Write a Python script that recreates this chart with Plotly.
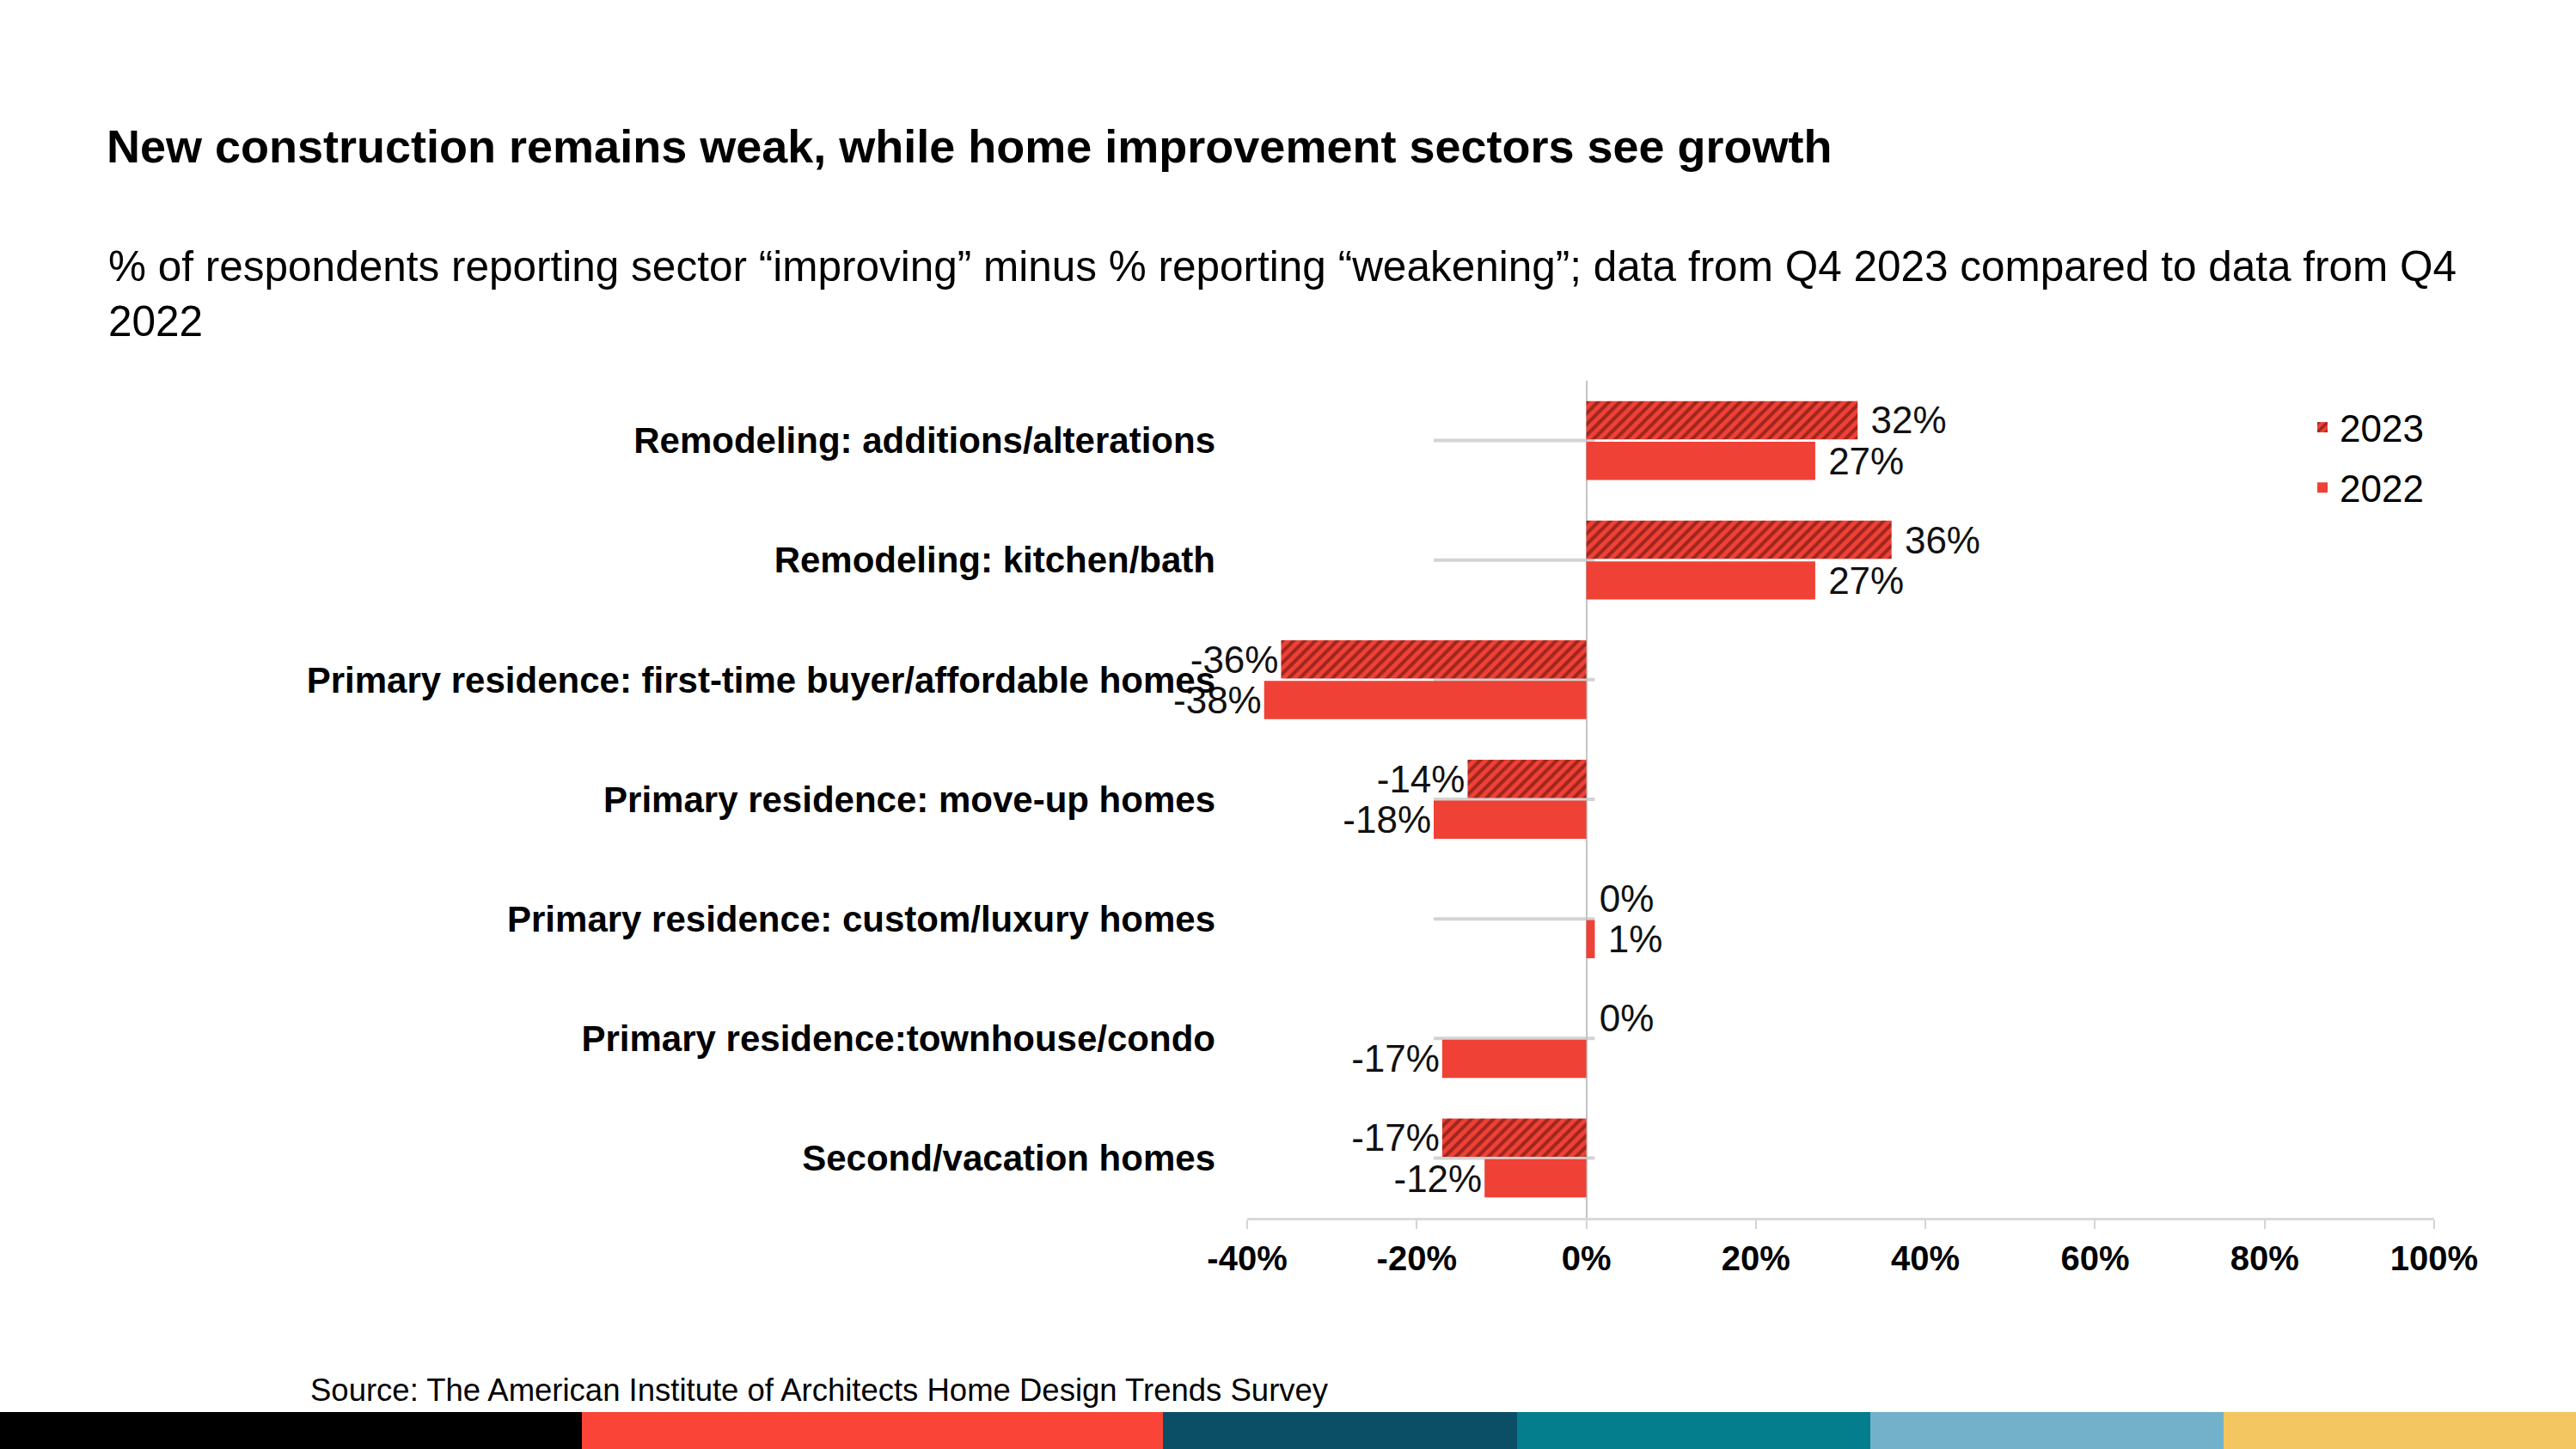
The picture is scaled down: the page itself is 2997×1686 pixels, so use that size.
import plotly.graph_objects as go

# ---------------- data ----------------
CATEGORIES = [
    "Remodeling: additions/alterations",
    "Remodeling: kitchen/bath",
    "Primary residence: first-time buyer/affordable homes",
    "Primary residence: move-up homes",
    "Primary residence: custom/luxury homes",
    "Primary residence:townhouse/condo",
    "Second/vacation homes",
]
VALUES_2023 = [32, 36, -36, -14, 0, 0, -17]
VALUES_2022 = [27, 27, -38, -18, 1, -17, -12]
SERIES_NAMES = ["2023", "2022"]
X_TICK_VALUES = [-40, -20, 0, 20, 40, 60, 80, 100]
X_TICK_LABELS = ["-40%", "-20%", "0%", "20%", "40%", "60%", "80%", "100%"]

TITLE = "New construction remains weak, while home improvement sectors see growth"
SUBTITLE = ("% of respondents reporting sector \u201cimproving\u201d minus % reporting "
            "\u201cweakening\u201d; data from Q4 2023 compared to data from Q4<br>2022")
SOURCE = "Source: The American Institute of Architects Home Design Trends Survey"

# ---------------- styling / layout ----------------
W, H = 2997, 1686
PLOT_L, PLOT_R, PLOT_T, PLOT_B = 1451, 2832, 443, 1417
FONT = "Liberation Sans, Arial, sans-serif"
RED = "#ef4136"
DARK = "#4f0c06"
BAND_COLORS = ["#000000", "#f94437", "#0b4f66", "#047d8c", "#72b1c9", "#f3c662"]
BAND_EDGES_PX = [0, 677, 1353, 1765, 2176, 2587, 2997]


def px_x(px):
    return (px - PLOT_L) / (PLOT_R - PLOT_L)


def px_y(py):
    return (PLOT_B - py) / (PLOT_B - PLOT_T)


def fmt(v):
    return f"{v}%" if v < 0 else f"\u00a0{v}%"


fig = go.Figure()
fig.add_trace(go.Bar(
    name=SERIES_NAMES[0], y=CATEGORIES, x=VALUES_2023, orientation="h",
    marker=dict(color=RED, line=dict(width=0),
                pattern=dict(shape="/", fgcolor=DARK, bgcolor=RED, size=9, solidity=0.45)),
    text=[fmt(v) for v in VALUES_2023], textposition="outside",
    textfont=dict(family=FONT, size=44, color="#111111"),
    cliponaxis=False, constraintext="none", legendgroup="g2023", hoverinfo="skip",
))
fig.add_trace(go.Bar(
    name=SERIES_NAMES[1], y=CATEGORIES, x=VALUES_2022, orientation="h",
    marker=dict(color=RED, line=dict(width=0)),
    text=[fmt(v) for v in VALUES_2022], textposition="outside",
    textfont=dict(family=FONT, size=44, color="#111111"),
    cliponaxis=False, constraintext="none", legendgroup="g2022", hoverinfo="skip",
))

shapes = []
for cat in CATEGORIES:
    shapes.append(dict(type="line", xref="x", yref="y", x0=-18, x1=1, y0=cat, y1=cat,
                       line=dict(color="#d3d3d3", width=4), layer="below"))
for i, col in enumerate(BAND_COLORS):
    shapes.append(dict(type="rect", xref="paper", yref="paper",
                       x0=px_x(BAND_EDGES_PX[i]), x1=px_x(BAND_EDGES_PX[i + 1]),
                       y0=px_y(1643), y1=px_y(1690),
                       fillcolor=col, line=dict(width=0), layer="above"))

fig.update_layout(
    width=W, height=H,
    margin=dict(l=PLOT_L, r=W - PLOT_R, t=PLOT_T, b=H - PLOT_B, pad=0),
    paper_bgcolor="white", plot_bgcolor="white",
    barmode="group", bargap=0.32, bargroupgap=0.06,
    font=dict(family=FONT, color="#000000"),
    title=dict(text=TITLE, xref="container", yref="container",
               x=124 / W, y=1 - 170 / H, xanchor="left", yanchor="middle",
               font=dict(family=FONT, size=54, weight="bold", color="#000000")),
    xaxis=dict(range=[-40, 100], tickvals=X_TICK_VALUES, ticktext=X_TICK_LABELS,
               showgrid=False, zeroline=True, zerolinecolor="#c4c4c4", zerolinewidth=2,
               showline=True, linecolor="#d9d9d9", linewidth=3,
               ticks="outside", ticklen=10, tickwidth=2, tickcolor="#d4d4d4",
               tickfont=dict(family=FONT, size=40, weight="bold", color="#000000"),
               fixedrange=True),
    yaxis=dict(categoryorder="array", categoryarray=CATEGORIES, autorange="reversed",
               showgrid=False, zeroline=False, showline=False, ticks="",
               ticklabelstandoff=36,
               tickfont=dict(family=FONT, size=42, weight="bold", color="#000000"),
               fixedrange=True),
    legend=dict(x=px_x(2682), y=px_y(462), xanchor="left", yanchor="top",
                font=dict(family=FONT, size=44, color="#000000"),
                tracegroupgap=10, bgcolor="rgba(0,0,0,0)", traceorder="grouped"),
    shapes=shapes,
    annotations=[
        dict(text=SUBTITLE, xref="paper", yref="paper", x=px_x(124), y=px_y(341.5),
             xanchor="left", yanchor="middle", align="left", showarrow=False,
             font=dict(family=FONT, size=49.5, color="#000000")),
        dict(text=SOURCE, xref="paper", yref="paper", x=px_x(359), y=px_y(1617),
             xanchor="left", yanchor="middle", align="left", showarrow=False,
             font=dict(family=FONT, size=36.5, color="#000000")),
    ],
)

fig.write_html("out.html", config={"displayModeBar": False},
               post_script="document.body.style.margin='0px';")
